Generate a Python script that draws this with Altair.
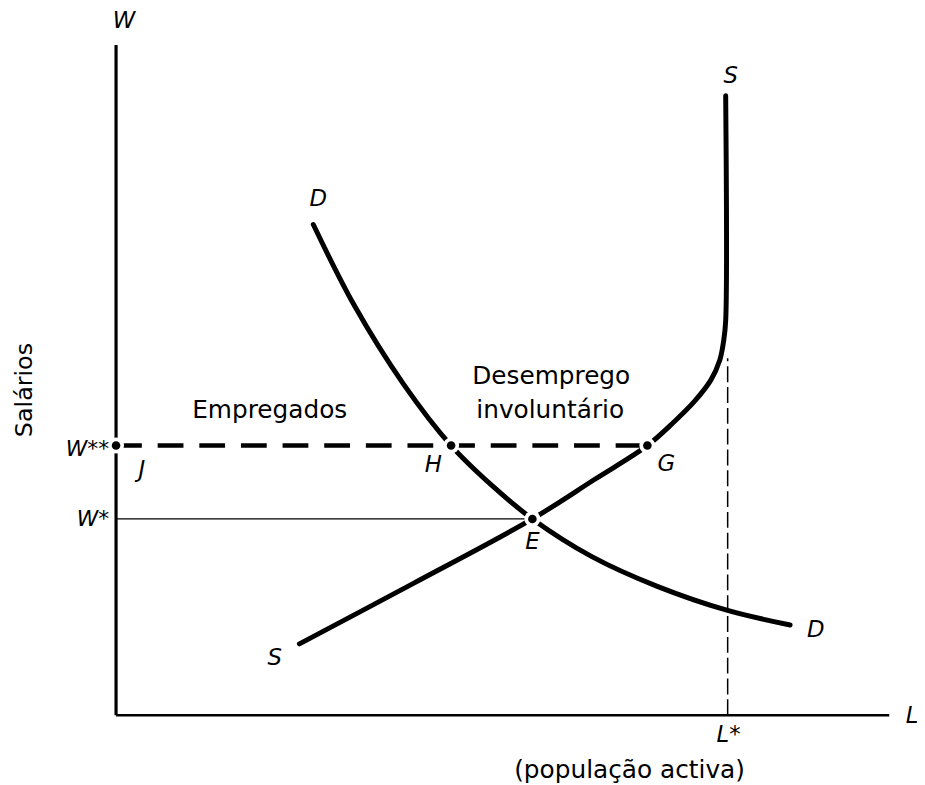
import altair as alt
import pandas as pd

# ---- data (abstract units: L horizontal, W vertical) ----
D_L = [199, 240, 290, 338, 380, 420, 480, 546, 616, 680]
D_W = [495, 414, 334, 272, 231, 198, 160, 130, 106, 91]

S_L = [185, 300, 420, 483, 536, 563, 583, 600, 609, 613, 615, 615]
S_W = [72, 133, 198, 238, 272, 296, 316, 338, 358, 378, 398, 625]

W_STAR2 = 272   # W**
W_STAR = 198    # W*
L_STAR = 617    # L*
L_MAX = 780
W_MAX = 676

pt_names = ["J", "H", "G", "E"]
pt_L = [0, 338, 536, 420]
pt_W = [272, 272, 272, 198]

# text labels
lab_text = ["S", "D", "E", "H", "G", "J", "S", "D", "L*"]
lab_L = [620, 204, 420, 320, 555, 26, 160, 706, 618]
lab_W = [645, 521, 175, 252, 253, 247, 58, 86, -20]

body_text = ["Empregados", "Desemprego", "involuntário", "(população activa)"]
body_L = [155, 439, 438, 518]
body_W = [308, 342, 308, -55]

FONT = "DejaVu Sans"

xs = alt.Scale(domain=[0, L_MAX], nice=False, zero=False)
ys = alt.Scale(domain=[0, W_MAX], nice=False, zero=False)

def X(f="L"):
    return alt.X(f"{f}:Q", scale=xs, axis=None)

def Y(f="W"):
    return alt.Y(f"{f}:Q", scale=ys, axis=None)

d_df = pd.DataFrame({"L": D_L, "W": D_W, "o": range(len(D_L))})
s_df = pd.DataFrame({"L": S_L, "W": S_W, "o": range(len(S_L))})

seg_df = pd.DataFrame({
    "name": ["yaxis", "xaxis", "wss", "ws", "lstar"],
    "L": [0, 0, 0, 0, L_STAR],
    "W": [0, 0, W_STAR2, W_STAR, 0],
    "L2": [0, L_MAX, pt_L[2], pt_L[3], L_STAR],
    "W2": [W_MAX, 0, W_STAR2, W_STAR, 360],
})

def seg(name, width, dash=None):
    kw = dict(color="black", strokeWidth=width, strokeCap="butt")
    if dash:
        kw["strokeDash"] = dash
    return alt.Chart(seg_df).transform_filter(alt.datum.name == name).mark_rule(**kw).encode(
        x=X(), y=Y(), x2="L2:Q", y2="W2:Q")

yaxis = seg("yaxis", 3.2)
xaxis = seg("xaxis", 2.5)
wss = seg("wss", 4.5, [26, 16])
ws = seg("ws", 1.2)
lstar = seg("lstar", 1.5, [16, 5])

dcurve = alt.Chart(d_df).mark_line(color="black", strokeWidth=5, interpolate="catmull-rom",
                                   strokeCap="round").encode(x=X(), y=Y(), order="o:Q")
scurve = alt.Chart(s_df).mark_line(color="black", strokeWidth=5, interpolate="catmull-rom",
                                   strokeCap="round").encode(x=X(), y=Y(), order="o:Q")

pt_df = pd.DataFrame({"n": pt_names, "L": pt_L, "W": pt_W})
halo = alt.Chart(pt_df).mark_circle(size=260, color="white", opacity=1).encode(x=X(), y=Y())
pts = alt.Chart(pt_df).mark_circle(size=75, color="black", opacity=1).encode(x=X(), y=Y())

labels = alt.Chart(pd.DataFrame({"t": lab_text, "L": lab_L, "W": lab_W})).mark_text(
    font=FONT, fontSize=23, fontStyle="italic", color="black", align="center",
    baseline="middle").encode(x=X(), y=Y(), text="t:N")

wlab = alt.Chart(pd.DataFrame({"t": ["W**", "W*"], "L": [-7, -7], "W": [W_STAR2 - 4, W_STAR]})).mark_text(
    font=FONT, fontSize=22, fontStyle="italic", color="black", align="right",
    baseline="middle").encode(x=X(), y=Y(), text="t:N")

topw = alt.Chart(pd.DataFrame({"t": ["W"], "L": [8], "W": [700]})).mark_text(
    font=FONT, fontSize=23, fontStyle="italic", color="black", align="center",
    baseline="middle").encode(x=X(), y=Y(), text="t:N")

llab = alt.Chart(pd.DataFrame({"t": ["L"], "L": [803], "W": [-1]})).mark_text(
    font=FONT, fontSize=23, fontStyle="italic", color="black", align="center",
    baseline="middle").encode(x=X(), y=Y(), text="t:N")

body = alt.Chart(pd.DataFrame({"t": body_text, "L": body_L, "W": body_W})).mark_text(
    font=FONT, fontSize=25, color="black", align="center", baseline="middle").encode(
    x=X(), y=Y(), text="t:N")

salarios = alt.Chart(pd.DataFrame({"t": ["Salários"], "L": [-92], "W": [328]})).mark_text(
    font=FONT, fontSize=24, color="black", align="center", baseline="middle", angle=270).encode(
    x=X(), y=Y(), text="t:N")

chart = alt.layer(
    lstar, ws, wss, yaxis, xaxis, dcurve, scurve, halo, pts, labels, wlab, topw, llab, body, salarios
).properties(
    width=780, height=676,
    autosize=alt.AutoSizeParams(type="none"),
    padding={"left": 109, "top": 34, "right": 28, "bottom": 67},
    background="white",
).configure_view(stroke=None)

chart.save("out.html", embed_options={"renderer": "svg", "actions": False})
